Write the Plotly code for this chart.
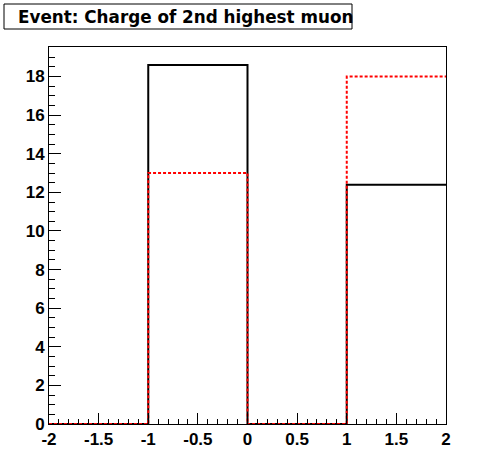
import plotly.graph_objects as go

# Bin edges and contents
bin_edges = [-2, -1, 0, 1, 2]
black_counts = [0, 18.6, 0, 12.4]
red_counts = [0, 13.0, 0, 18.0]
title_text = "Event: Charge of 2nd highest muon"
x_tick_vals = [-2, -1.5, -1, -0.5, 0, 0.5, 1, 1.5, 2]
x_tick_text = ["-2", "-1.5", "-1", "-0.5", "0", "0.5", "1", "1.5", "2"]
y_tick_vals = [0, 2, 4, 6, 8, 10, 12, 14, 16, 18]
y_tick_text = ["0", "2", "4", "6", "8", "10", "12", "14", "16", "18"]

W, H = 496, 472
L, R, T, B = 49, 50, 47, 48
pw = W - L - R
ph = H - T - B

def step(vals):
    return list(vals) + [vals[-1]]

fig = go.Figure()
fig.add_trace(go.Scatter(x=bin_edges, y=step(black_counts), mode="lines",
                         line=dict(shape="hv", color="black", width=2),
                         showlegend=False, hoverinfo="skip"))
fig.add_trace(go.Scatter(x=bin_edges, y=step(red_counts), mode="lines",
                         line=dict(shape="hv", color="red", width=2, dash="3px,2px"),
                         showlegend=False, hoverinfo="skip"))

ymax = max(max(black_counts), max(red_counts)) * 1.05
tickfont = dict(family="Liberation Sans, Arial, sans-serif", size=17, color="black", weight="bold")

fig.update_layout(
    width=W, height=H,
    margin=dict(l=L, r=R, t=T, b=B, pad=0),
    paper_bgcolor="white", plot_bgcolor="white",
    xaxis=dict(range=[-2, 2], tickmode="array", tickvals=x_tick_vals, ticktext=x_tick_text,
               ticks="inside", ticklen=11,
               tickcolor="black", tickwidth=1, showgrid=False, zeroline=False,
               showline=True, linecolor="black", linewidth=1, mirror=True,
               tickfont=tickfont,
               minor=dict(dtick=0.1, tick0=-2, ticks="inside", ticklen=5, tickcolor="black", showgrid=False)),
    yaxis=dict(range=[0, ymax], tickmode="array", tickvals=y_tick_vals, ticktext=y_tick_text,
               ticks="inside", ticklen=12,
               tickcolor="black", tickwidth=1, showgrid=False, zeroline=False,
               showline=True, linecolor="black", linewidth=1, mirror=True,
               tickfont=tickfont,
               minor=dict(dtick=0.5, tick0=0, ticks="inside", ticklen=6, tickcolor="black", showgrid=False)),
)

# Title box (ROOT-style pave)
x0 = (4 - L) / pw
x1 = (352 - L) / pw
y0 = 1 + (T - 29) / ph
y1 = 1 + (T - 4) / ph
fig.add_shape(type="rect", xref="paper", yref="paper", x0=x0, x1=x1, y0=y0, y1=y1,
              line=dict(color="black", width=1), fillcolor="white", layer="above")
fig.add_annotation(text=title_text, xref="paper", yref="paper",
                   x=(16 - L) / pw, y=(y0 + y1) / 2, xanchor="left", yanchor="middle",
                   showarrow=False,
                   font=dict(family="DejaVu Sans, sans-serif", size=16.8,
                             color="black", weight="bold"))

fig.write_html("out.html", config={"displayModeBar": False},
               post_script="document.body.style.margin='0px';")
